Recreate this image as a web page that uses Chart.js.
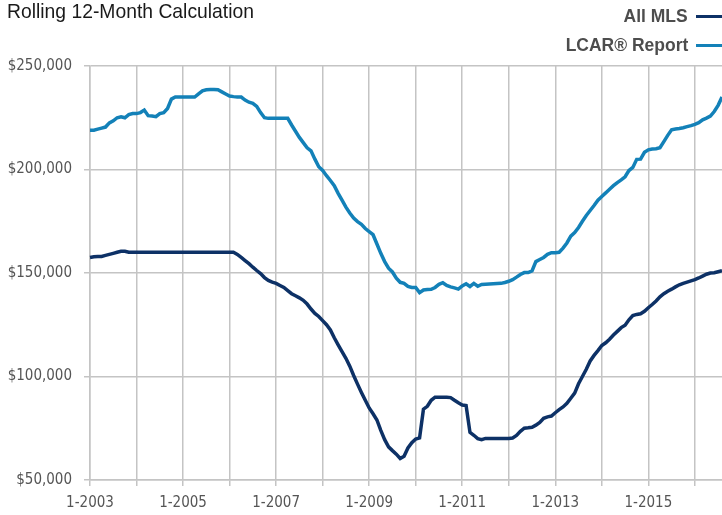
<!DOCTYPE html>
<html>
<head>
<meta charset="utf-8">
<script src="https://cdn.jsdelivr.net/npm/chart.js@4/dist/chart.umd.min.js"></script>
<style>
    html, body { margin: 0; padding: 0; background: #fff; }
    #wrap { position: relative; width: 722px; height: 515px; overflow: hidden; }
    #title {
        position: absolute; left: 7px; top: -1px;
        font: 21px "Liberation Sans", Arial, sans-serif;
        color: #1a1a1a; white-space: nowrap;
        transform: scaleX(0.92); transform-origin: left top;
    }
    .leg {
        position: absolute; right: 0; height: 26px;
        display: flex; align-items: center;
    }
    .leg b {
        font: bold 19px "Liberation Sans", Arial, sans-serif;
        color: #4d4d4d; white-space: nowrap;
        display: inline-block; transform: scaleX(0.92); transform-origin: right center;
    }
    .leg span.sw { display: inline-block; width: 26px; height: 3px; margin-left: 8px; }
    canvas { position: absolute; left: 0; top: 0; }
</style>
</head>
<body>
<div id="wrap">
    <canvas id="chart" width="722" height="515"></canvas>
    <div id="title">Rolling 12-Month Calculation</div>
    <div class="leg" style="top: 3px;"><b>All MLS</b><span class="sw" style="background:#0d3166"></span></div>
    <div class="leg" style="top: 32px;"><b>LCAR® Report</b><span class="sw" style="background:#1381b8"></span></div>
</div>
<script>
// Meses: 1-2003 ate 8-2016
const startYear = 2003;
const monthCount = 164;

const seriesNames = ['All MLS', 'LCAR® Report'];
const seriesColors = ['#0d3166', '#1381b8'];

const yTicks = [50000, 100000, 150000, 200000, 250000];

// valores em milhares de dolares
const allMls = [
    157.5, 157.8, 158, 158, 158.5, 159, 159.5, 160, 160.5, 160.5, 160, 160,
    160, 160, 160, 160, 160, 160, 160, 160, 160, 160, 160, 160,
    160, 160, 160, 160, 160, 160, 160, 160, 160, 160, 160, 160,
    160, 160, 159, 157.5, 156, 154.5, 152.8, 151.2, 149.7, 147.8, 146.4, 145.6,
    145, 144, 143, 141.5, 140, 139, 138, 136.8, 135, 132.6, 130.5, 129,
    127, 125, 122.5, 118.7, 115.3, 112, 108.8, 105, 100.5, 96.3, 92.3, 88.5,
    84.8, 82, 79, 74, 69.5, 66, 64.2, 62.5, 60.4, 61.5, 65.5, 68,
    69.8, 70.3, 84.2, 85.6, 88.5, 90, 90, 90, 90, 89.8, 88.5, 87.3,
    86.2, 86, 73, 71.6, 70, 69.5, 70.1, 70.1, 70.1, 70.1, 70.1, 70.1,
    70.1, 70.3, 71.5, 73.5, 75, 75.2, 75.5, 76.5, 77.8, 79.8, 80.5, 80.9,
    82.5, 84, 85.3, 87, 89.5, 92, 96.5, 100, 103.5, 107.5, 110.2, 112.5,
    115, 116.3, 118, 120, 121.8, 123.6, 124.8, 127.4, 129.4, 130, 130.3, 131.5,
    133.2, 134.8, 136.5, 138.5, 140, 141.2, 142.2, 143.3, 144.3, 145, 145.6, 146.2,
    146.8, 147.6, 148.5, 149.4, 150, 150.1, 150.6, 151.1
];

const lcarReport = [
    219, 219, 219.5, 220, 220.5, 222.5, 223.5, 225, 225.5, 225, 226.5, 227,
    227, 227.5, 228.7, 226, 225.8, 225.5, 227, 227.5, 229.5, 234, 235, 235,
    235, 235, 235, 235, 236.5, 238, 238.5, 238.7, 238.7, 238.5, 237.5, 236.5,
    235.5, 235.2, 235, 235, 233.5, 232.5, 232, 230.5, 227.5, 225, 224.7, 224.7,
    224.7, 224.7, 224.7, 224.7, 221.5, 218.5, 215.5, 213, 210.5, 209, 205, 201.3,
    199.5, 197, 194.7, 192.2, 188.5, 185.2, 181.8, 179, 176.5, 174.8, 173.5, 171.5,
    170, 168.5, 164, 159.5, 155.5, 152.3, 150.5, 147.5, 145.5, 145, 143.5, 143,
    143, 140.5, 141.8, 142, 142.1, 143, 144.5, 145.3, 144, 143.3, 142.8, 142.2,
    143.8, 144.8, 143.5, 145, 143.6, 144.5, 144.6, 144.7, 144.8, 144.9, 145, 145.4,
    146, 146.8, 148, 149.3, 150.2, 150.2, 151, 155.5, 156.5, 157.5, 159, 159.8,
    159.8, 160, 162, 164.5, 167.8, 169.5, 172, 175, 177.8, 180.2, 182.6, 185.2,
    187, 188.7, 190.5, 192.2, 193.7, 195, 196.5, 199.5, 201, 204.9, 205, 208.3,
    209.5, 209.9, 210, 210.5, 213.5, 216.5, 219.2, 219.6, 219.8, 220.2, 220.7, 221.2,
    221.8, 222.6, 224, 224.8, 225.8, 228, 231, 235
];

const monthLabels = [];
for (let i = 0; i < monthCount; i++) {
    monthLabels.push(((i % 12) + 1) + '-' + (startYear + Math.floor(i / 12)));
}

const narrowFont = '"DejaVu Sans Condensed", "Liberation Sans", sans-serif';
const gridColor = '#c4c4c4';

const ctx = document.getElementById('chart');
new Chart(ctx, {
    type: 'line',
    data: {
        labels: monthLabels,
        datasets: [
            {
                label: seriesNames[1],
                data: lcarReport.map(v => v * 1000),
                borderColor: seriesColors[1],
                borderWidth: 3.5,
                pointRadius: 0,
                tension: 0,
                fill: false
            },
            {
                label: seriesNames[0],
                data: allMls.map(v => v * 1000),
                borderColor: seriesColors[0],
                borderWidth: 3.5,
                pointRadius: 0,
                tension: 0,
                fill: false
            }
        ]
    },
    options: {
        responsive: false,
        animation: false,
        devicePixelRatio: 1,
        layout: { padding: { top: 66, right: 0, left: 0, bottom: 0 } },
        plugins: {
            legend: { display: false },
            tooltip: { enabled: false }
        },
        scales: {
            x: {
                type: 'category',
                offset: false,
                grid: { color: gridColor, lineWidth: 1.5, tickLength: 6, drawOnChartArea: true },
                border: { color: gridColor, width: 1.5 },
                ticks: {
                    autoSkip: false,
                    maxRotation: 0,
                    minRotation: 0,
                    padding: 8,
                    color: '#555',
                    font: { family: narrowFont, size: 15 },
                    callback: function (val, idx) {
                        if (idx % 12 !== 0) return null;
                        return (idx / 12) % 2 === 0 ? this.getLabelForValue(val) : '';
                    }
                },
                afterFit: s => { s.height = 35; }
            },
            y: {
                min: 50000,
                max: 250000,
                afterBuildTicks: s => { s.ticks = yTicks.map(v => ({ value: v })); },
                grid: { color: gridColor, lineWidth: 1.5, tickLength: 6 },
                border: { color: gridColor, width: 1.5 },
                ticks: {
                    padding: 12,
                    color: '#555',
                    font: { family: narrowFont, size: 15 },
                    callback: v => '$' + v.toLocaleString('en-US')
                },
                afterFit: s => { s.width = 90; }
            }
        }
    }
});
</script>
</body>
</html>
